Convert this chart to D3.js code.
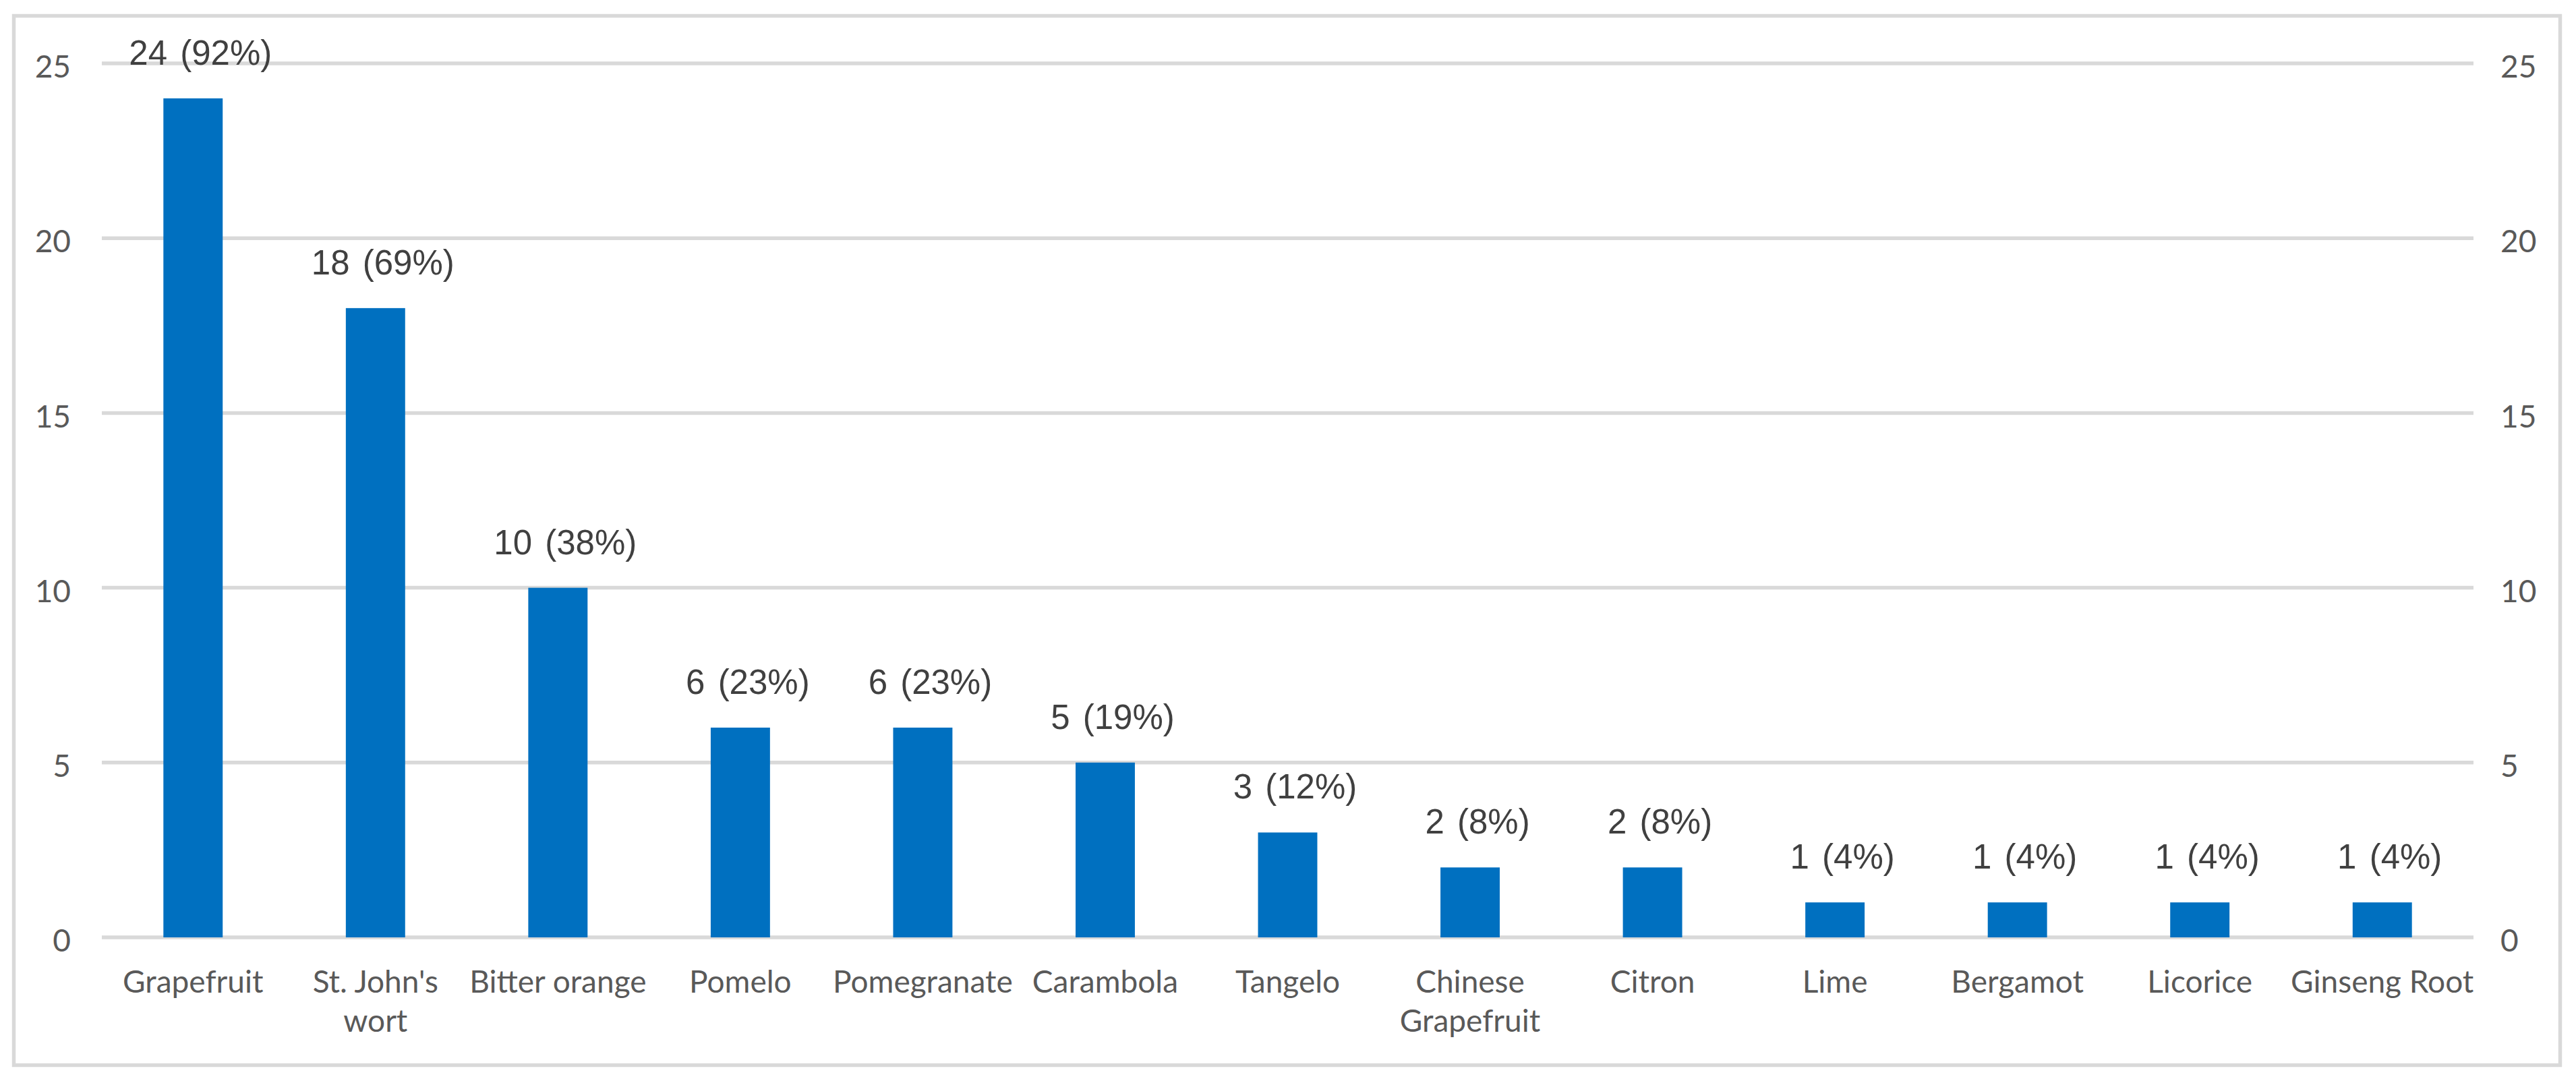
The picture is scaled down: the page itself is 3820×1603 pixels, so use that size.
<!DOCTYPE html>
<html>
<head>
<meta charset="utf-8">
<script src="https://cdn.jsdelivr.net/npm/d3@7"></script>
<style>
  html, body { margin: 0; padding: 0; background: #ffffff; }
  svg { display: block; }
</style>
</head>
<body>
<svg id="chart" width="3820" height="1603"></svg>
<script>
// ---- data ----
const categories = ["Grapefruit", "St. John's wort", "Bitter orange", "Pomelo", "Pomegranate", "Carambola", "Tangelo", "Chinese Grapefruit", "Citron", "Lime", "Bergamot", "Licorice", "Ginseng Root"];
const categoryLines = [["Grapefruit"], ["St. John's", "wort"], ["Bitter orange"], ["Pomelo"], ["Pomegranate"], ["Carambola"], ["Tangelo"], ["Chinese", "Grapefruit"], ["Citron"], ["Lime"], ["Bergamot"], ["Licorice"], ["Ginseng Root"]];
const counts = [24, 18, 10, 6, 6, 5, 3, 2, 2, 1, 1, 1, 1];
const percents = [92, 69, 38, 23, 23, 19, 12, 8, 8, 4, 4, 4, 4];
const yTicks = [0, 5, 10, 15, 20, 25];

// ---- layout ----
const W = 3820, H = 1603;
const plotLeft = 151, plotRight = 3668, plotTop = 94, plotBottom = 1390;
const svg = d3.select("#chart");

svg.append("rect").attr("x", 0).attr("y", 0).attr("width", W).attr("height", H).attr("fill", "#ffffff");
// outer frame
svg.append("rect")
  .attr("x", 20.5).attr("y", 23.5).attr("width", 3776).attr("height", 1556)
  .attr("fill", "none").attr("stroke", "#d9d9d9").attr("stroke-width", 5.5);

const pad = 0.675;
const x = d3.scaleBand().domain(categories).range([plotLeft, plotRight])
  .paddingInner(pad).paddingOuter(pad / 2);
const y = d3.scaleLinear().domain([0, 25]).range([plotBottom, plotTop]);

// gridlines
svg.append("g").selectAll("line").data(yTicks).join("line")
  .attr("x1", plotLeft).attr("x2", plotRight)
  .attr("y1", d => y(d)).attr("y2", d => y(d))
  .attr("stroke", "#d9d9d9").attr("stroke-width", 5.5);

const tickFont = "Lato, 'Open Sans', sans-serif";
// left axis labels
const leftAxis = d3.axisLeft(y).tickValues(yTicks).tickSize(0).tickPadding(0);
const gL = svg.append("g").attr("transform", "translate(105,0)").call(leftAxis);
gL.select(".domain").remove();
gL.selectAll("text").attr("font-family", tickFont).attr("font-size", 46)
  .attr("fill", "#595959").attr("dy", "0.45em");

// right axis labels
const rightAxis = d3.axisRight(y).tickValues(yTicks).tickSize(0).tickPadding(0);
const gR = svg.append("g").attr("transform", "translate(3708,0)").call(rightAxis);
gR.select(".domain").remove();
gR.selectAll("text").attr("font-family", tickFont).attr("font-size", 46)
  .attr("fill", "#595959").attr("dy", "0.45em");

// bars
svg.append("g").selectAll("rect").data(categories).join("rect")
  .attr("x", d => x(d))
  .attr("width", x.bandwidth())
  .attr("y", (d, i) => y(counts[i]))
  .attr("height", (d, i) => y(0) - y(counts[i]))
  .attr("fill", "#0070c0");

// data labels
svg.append("g").selectAll("text").data(categories).join("text")
  .attr("x", d => x(d) + x.bandwidth() / 2 + 11)
  .attr("y", (d, i) => y(counts[i]) - 50)
  .attr("text-anchor", "middle")
  .attr("font-family", "'Liberation Sans', Arial, sans-serif")
  .attr("font-size", 51)
  .attr("word-spacing", 5)
  .attr("fill", "#404040")
  .text((d, i) => counts[i] + " (" + percents[i] + "%)");

// category labels
const cl = svg.append("g").selectAll("text").data(categories).join("text")
  .attr("x", d => x(d) + x.bandwidth() / 2)
  .attr("y", 1472)
  .attr("text-anchor", "middle")
  .attr("font-family", tickFont)
  .attr("font-size", 46)
  .attr("fill", "#595959");
cl.each(function(d, i) {
  const t = d3.select(this);
  categoryLines[i].forEach((line, j) => {
    t.append("tspan").attr("x", x(d) + x.bandwidth() / 2).attr("y", 1472 + j * 58).text(line);
  });
});
</script>
</body>
</html>
